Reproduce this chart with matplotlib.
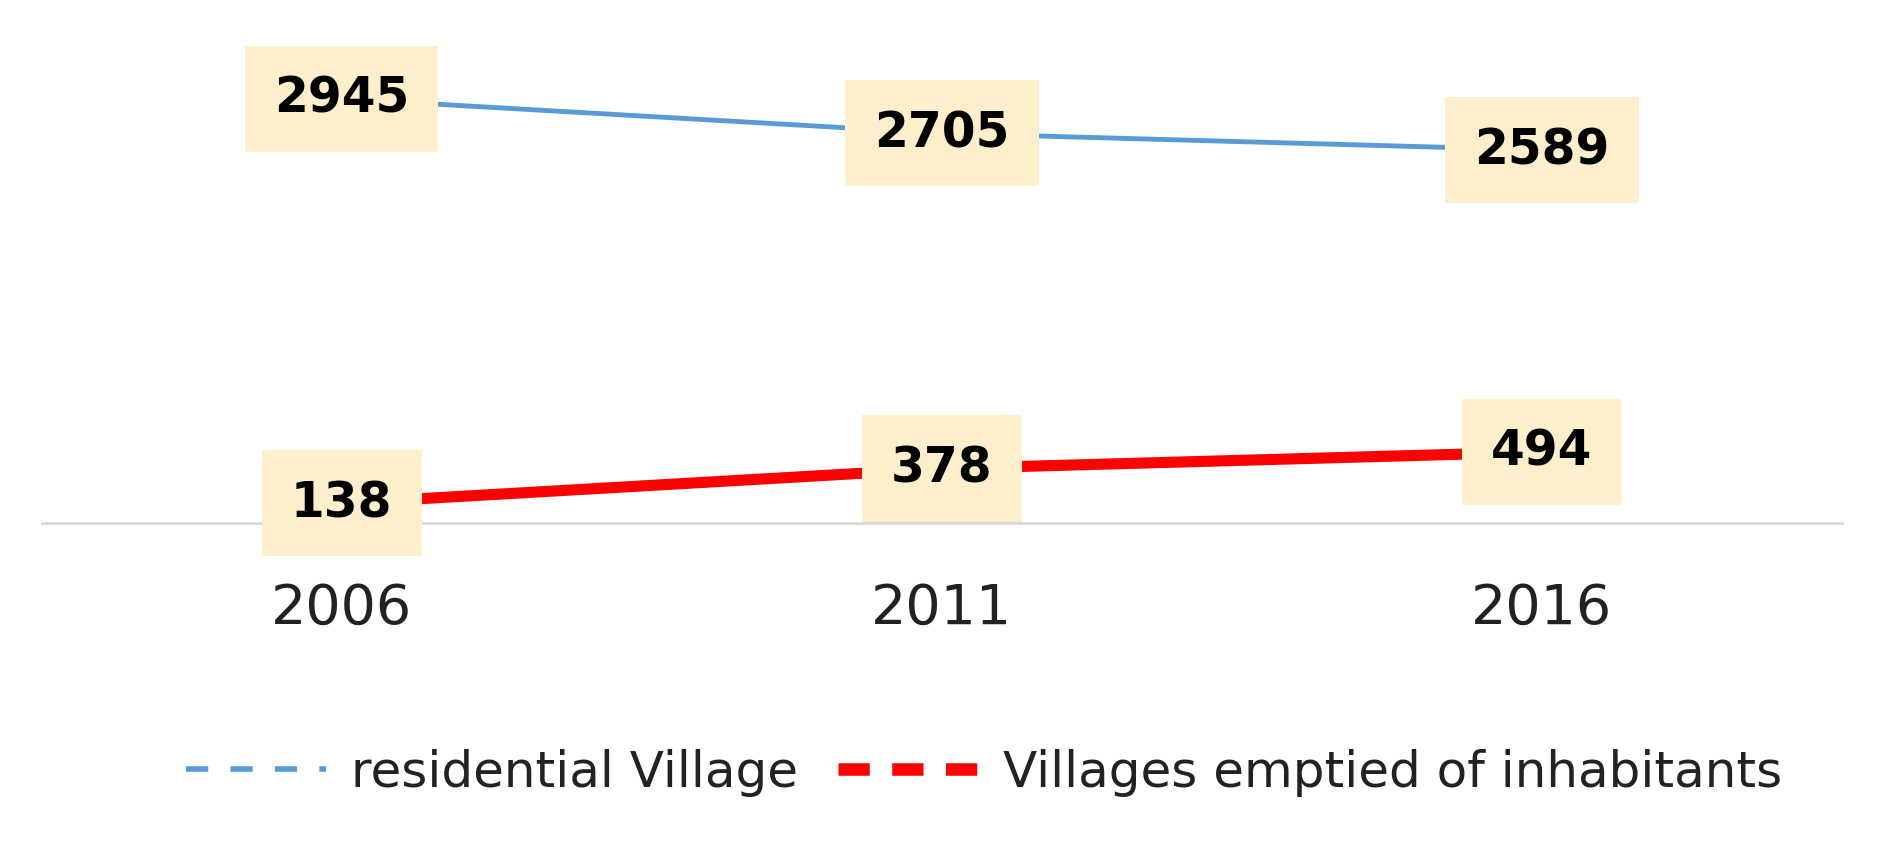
import matplotlib
matplotlib.use("Agg")
import matplotlib.pyplot as plt
from matplotlib.lines import Line2D

years = ["2006", "2011", "2016"]
residential = [2945, 2705, 2589]
emptied = [138, 378, 494]

fig = plt.figure(figsize=(18.93, 8.52), dpi=100)
ax = fig.add_axes([0.022, 0.386, 0.951, 0.592])
x = list(range(len(years)))
ax.plot(x, residential, color="#5B9BD5", lw=3.5, solid_capstyle="butt")
ax.plot(x, emptied, color="#FF0000", lw=8, solid_capstyle="butt")
ax.set_xlim(-0.5, 2.5)
ax.set_ylim(0, 3500)
ax.set_yticks([])
for s in ["top", "right", "left"]:
    ax.spines[s].set_visible(False)
ax.spines["bottom"].set_color("#D9D9D9")
ax.spines["bottom"].set_linewidth(2)
ax.set_xticks(x)
ax.set_xticklabels(years, fontsize=40, color="#222222")
ax.tick_params(axis="x", length=0, pad=42)
box = dict(boxstyle="square,pad=0.6", fc="#FDEFCB", ec="none")
for xi, v in zip(x, residential):
    ax.text(xi, v, str(v), ha="center", va="center", fontsize=35, fontweight="bold", bbox=box, zorder=5)
for xi, v in zip(x, emptied):
    ax.text(xi, v, str(v), ha="center", va="center", fontsize=35, fontweight="bold", bbox=box, zorder=5)

handles = [Line2D([], [], color="#5B9BD5", lw=4, ls=(0, (4, 4))),
           Line2D([], [], color="#FF0000", lw=9, ls=(0, (2.5, 1.8)))]
fig.legend(handles, ["residential Village", "Villages emptied of inhabitants"],
           loc="center", bbox_to_anchor=(0.52, 0.093), ncol=2, frameon=False,
           fontsize=36, handlelength=2.8, columnspacing=0.8, handletextpad=0.5,
           labelcolor="#222222")
fig.savefig("out.png", dpi=100)
